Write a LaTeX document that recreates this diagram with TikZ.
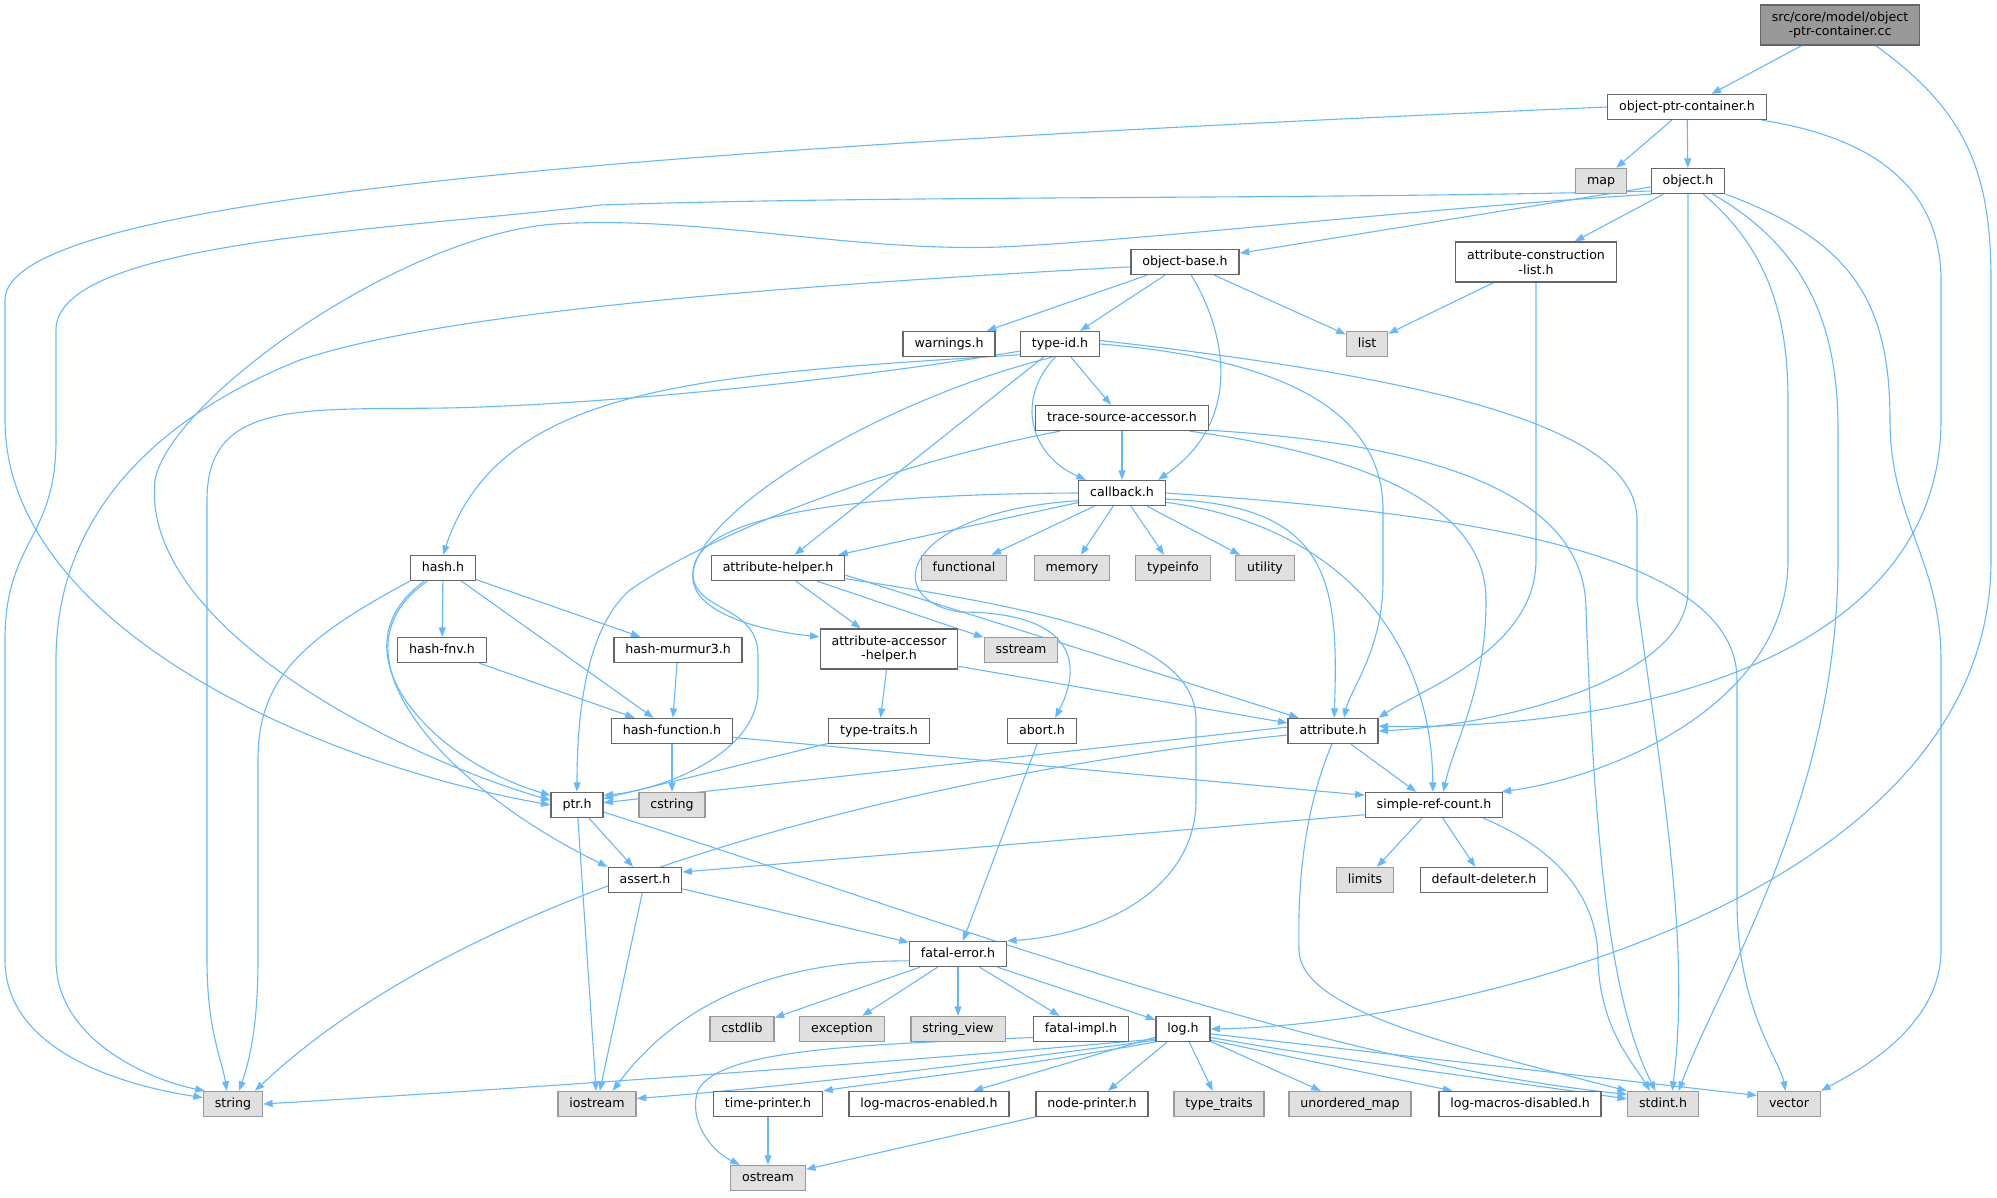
\documentclass[tikz,border=0pt]{standalone}
\usepackage{fontspec}
\setmainfont{DejaVu Sans}
\usetikzlibrary{arrows.meta}
\pgfdeclarelayer{bg}
\pgfsetlayers{bg,main}
\definecolor{edgeblue}{HTML}{63B8FF}
\definecolor{boxline}{HTML}{666666}
\definecolor{sysline}{HTML}{999999}
\definecolor{sysfill}{HTML}{E0E0E0}
\definecolor{mainfill}{HTML}{999999}
\tikzset{
  hdr/.style={draw=boxline,fill=white,line width=1.3pt,inner xsep=11.4pt,inner ysep=0pt,
    minimum height=25pt,text height=9.6pt,text depth=3pt,font=\fontsize{12.6}{15}\selectfont},
  sys/.style={hdr,draw=sysline,fill=sysfill},
  twoline/.style={draw=boxline,fill=white,line width=1.3pt,inner xsep=11.4pt,inner ysep=0pt,
    minimum height=40pt,align=center,font=\fontsize{12.6}{14.8}\selectfont},
  mainfile/.style={twoline,fill=mainfill},
  incl/.style={draw=edgeblue,line width=1.1pt,-{Triangle[length=9.5pt,width=7pt]}}
}
\begin{document}
\begin{tikzpicture}[x=1pt,y=-1pt]
\useasboundingbox (0,0) rectangle (1997,1197);
\node[mainfile] (cc) at (1840,25) {src/core/model/object\\-ptr-container.cc};
\node[twoline] (attrconst) at (1536,262) {attribute-construction\\-list.h};
\node[twoline] (attraccess) at (889,649) {attribute-accessor\\-helper.h};
\foreach \n/\x/\y/\t in {optc/1687/107/object-ptr-container.h, object/1688/181/object.h,
  objbase/1185/262/object-base.h, warnings/949/344/warnings.h, typeid/1060/344/type-id.h,
  trace/1122/418/trace-source-accessor.h, callback/1122/493/callback.h, hash/443/568/hash.h,
  attrhelper/778/568/attribute-helper.h, hashfnv/442/650/hash-fnv.h, hashmurmur/678/650/hash-murmur3.h,
  hashfunc/672/731/hash-function.h, typetraits/879/731/type-traits.h, abort/1042/731/abort.h,
  attribute/1333/731/attribute.h, ptr/577/805/ptr.h, simpleref/1434/805/simple-ref-count.h,
  assert/645/880/assert.h, defdel/1484/880/default-deleter.h, fatalerror/958/954/fatal-error.h,
  fatalimpl/1081/1029/fatal-impl.h, log/1183/1029/log.h, timeprinter/768/1104/time-printer.h,
  logmacen/929/1104/log-macros-enabled.h, nodeprinter/1092/1104/node-printer.h,
  logmacdis/1520/1104/log-macros-disabled.h}
  \node[hdr] (\n) at (\x,\y) {\t};
\foreach \n/\x/\y/\t in {map/1601/181/map, list/1367/344/list, functional/964/568/functional,
  memory/1072/568/memory, typeinfo/1173/568/typeinfo, utility/1265/568/utility,
  sstream/1021/650/sstream, cstring/672/805/cstring, limits/1365/880/limits,
  cstdlib/742/1029/cstdlib, exception/842/1029/exception, stringview/958/1029/string\_view,
  string/233/1104/string, iostream/597/1104/iostream, typetraitsstd/1219/1104/type\_traits,
  unorderedmap/1350/1104/unordered\_map, stdint/1663/1104/stdint.h, vector/1789/1104/vector,
  ostream/768/1178/ostream}
  \node[sys] (\n) at (\x,\y) {\t};
\begin{pgfonlayer}{bg}
\foreach \a/\b in {cc/optc, optc/map, optc/object, object/objbase, object/attrconst,
  objbase/warnings, objbase/typeid, objbase/list, attrconst/list, typeid/attrhelper,
  typeid/trace, trace/callback, callback/functional, callback/memory, callback/typeinfo,
  callback/utility, callback/attrhelper, hash/hashfnv, hash/hashmurmur, hash/hashfunc,
  hashfnv/hashfunc, hashmurmur/hashfunc, attrhelper/attraccess, attrhelper/sstream,
  attrhelper.-6/attribute.159, attraccess/typetraits, attraccess.-14/attribute.170,
  hashfunc/cstring, hashfunc.-6/simpleref.172, typetraits/ptr, abort/fatalerror,
  attribute.175/ptr.5, attribute/simpleref, ptr/assert, ptr/iostream, simpleref.-172/assert.12,
  simpleref/limits, simpleref/defdel, assert/fatalerror, assert/iostream, fatalerror/cstdlib,
  fatalerror/exception, fatalerror/stringview, fatalerror/fatalimpl, fatalerror/log,
  log/logmacen, log/nodeprinter, log/typetraitsstd, log/unorderedmap, log.-22/logmacdis.169,
  log.-10/vector.165, timeprinter/ostream, nodeprinter/ostream}
  \draw[incl] (\a) -- (\b);
\draw[incl] (cc.-30) .. controls (1965,110) and (1991,170) .. (1991,280) -- (1991,560)
  .. controls (1991,900) and (1450,1025) .. (log.east);
\draw[incl] (optc.west) .. controls (600,150) and (5,200) .. (5,300) -- (5,420)
  .. controls (5,620) and (300,760) .. (ptr.west);
\draw[incl] (optc.-10) .. controls (1890,140) and (1941,200) .. (1941,280) -- (1941,420)
  .. controls (1941,650) and (1650,730) .. (attribute.6);
\draw[incl] (object.-165) .. controls (1300,200) and (900,195) .. (600,205)
  .. controls (400,230) and (56,240) .. (56,330) -- (56,440) .. controls (56,540) and (5,540) .. (5,640)
  -- (5,960) .. controls (5,1050) and (120,1085) .. (string.168);
\draw[incl] (object.-160) .. controls (1400,210) and (1150,240) .. (1000,247)
  .. controls (850,252) and (700,215) .. (555,224) .. controls (400,235) and (170,400) .. (155,480)
  .. controls (140,620) and (380,750) .. (ptr.170);
\draw[incl] (object.south) -- (1688,590) .. controls (1688,680) and (1500,725) .. (attribute.east);
\draw[incl] (object.-41) .. controls (1770,250) and (1788,320) .. (1788,400) -- (1788,560)
  .. controls (1788,700) and (1620,775) .. (simpleref.11);
\draw[incl] (object.-28) .. controls (1810,250) and (1838,330) .. (1838,430) -- (1838,560)
  .. controls (1838,800) and (1720,980) .. (stdint.40);
\draw[incl] (object.south east) .. controls (1850,240) and (1890,300) .. (1890,420)
  .. controls (1890,520) and (1941,560) .. (1941,660) -- (1941,950)
  .. controls (1941,1030) and (1850,1075) .. (vector.north east);
\draw[incl] (objbase.-175) .. controls (800,285) and (450,310) .. (300,360)
  .. controls (150,420) and (56,520) .. (56,660) -- (56,960) .. controls (56,1040) and (150,1080) .. (string.155);
\draw[incl] (objbase.-65) .. controls (1225,330) and (1245,420) .. (callback.20);
\draw[incl] (attrconst.south) -- (1536,560) .. controls (1536,650) and (1420,690) .. (attribute.north east);
\draw[incl] (typeid.-170) .. controls (850,380) and (600,405) .. (446,408)
  .. controls (300,410) and (207,400) .. (207,500) -- (207,960) .. controls (207,1030) and (222,1060) .. (string.115);
\draw[incl] (typeid.-165) .. controls (700,375) and (500,385) .. (hash.north);
\draw[incl] (typeid.-120) .. controls (880,400) and (700,510) .. (693,573)
  .. controls (688,615) and (770,632) .. (attraccess.170);
\draw[incl] (typeid.-110) .. controls (1015,400) and (1030,455) .. (callback.160);
\draw[incl] (typeid.east) .. controls (1300,360) and (1383,420) .. (1383,510) -- (1383,580)
  .. controls (1383,650) and (1350,690) .. (attribute.50);
\draw[incl] (typeid.5) .. controls (1450,380) and (1637,430) .. (1637,520) -- (1637,600)
  .. controls (1665,800) and (1690,950) .. (stdint.55);
\draw[incl] (trace.-168) .. controls (880,465) and (700,540) .. (630,590)
  .. controls (590,625) and (577,700) .. (ptr.north);
\draw[incl] (trace.-11) .. controls (1400,460) and (1486,520) .. (1486,600)
  .. controls (1486,690) and (1455,740) .. (simpleref.55);
\draw[incl] (trace.-8) .. controls (1450,445) and (1586,500) .. (1586,610)
  .. controls (1595,850) and (1610,1000) .. (stdint.120);
\draw[incl] (callback.west) .. controls (850,494) and (690,515) .. (693,575)
  .. controls (695,612) and (758,605) .. (758,655) -- (758,690) .. controls (758,755) and (660,790) .. (ptr.20);
\draw[incl] (callback.-170) .. controls (900,512) and (880,600) .. (960,612)
  .. controls (1070,612) and (1085,660) .. (abort.45);
\draw[incl] (callback.-8) .. controls (1330,505) and (1339,580) .. (attribute.85);
\draw[incl] (callback.-12) .. controls (1340,525) and (1432,640) .. (simpleref.95);
\draw[incl] (callback.east) .. controls (1500,515) and (1737,560) .. (1737,680) -- (1737,900)
  .. controls (1737,1010) and (1780,1060) .. (vector.105);
\draw[incl] (hash.south west) .. controls (300,640) and (258,680) .. (258,760) -- (258,960)
  .. controls (258,1030) and (248,1065) .. (string.65);
\draw[incl] (hash.-145) .. controls (330,650) and (430,760) .. (ptr.160);
\draw[incl] (hash.-140) .. controls (320,655) and (450,790) .. (assert.north west);
\draw[incl] (attrhelper.-9) .. controls (1050,610) and (1196,640) .. (1196,720) -- (1196,800)
  .. controls (1196,890) and (1100,935) .. (fatalerror.15);
\draw[incl] (attribute.-175) .. controls (1000,765) and (500,860) .. (string.31);
\draw[incl] (attribute.-95) .. controls (1300,820) and (1298,900) .. (1299,950)
  .. controls (1300,1010) and (1450,1045) .. (stdint.160);
\draw[incl] (ptr.-15) .. controls (900,905) and (1300,1060) .. (stdint.165);
\draw[incl] (simpleref.-15) .. controls (1560,850) and (1598,900) .. (1598,960)
  .. controls (1600,1030) and (1635,1065) .. (stdint.135);
\draw[incl] (fatalerror.-172) .. controls (780,960) and (680,1000) .. (iostream.40);
\draw[incl] (fatalimpl.-170) .. controls (850,1045) and (720,1050) .. (698,1090)
  .. controls (688,1120) and (710,1150) .. (ostream.155);
\draw[incl] (log.-160) .. controls (900,1062) and (500,1090) .. (string.east);
\draw[incl] (log.-158) .. controls (950,1068) and (750,1090) .. (iostream.8);
\draw[incl] (log.-155) .. controls (1000,1070) and (880,1082) .. (timeprinter.north east);
\draw[incl] (log.-17) .. controls (1350,1062) and (1500,1080) .. (stdint.172);
\end{pgfonlayer}
\end{tikzpicture}
\end{document}
